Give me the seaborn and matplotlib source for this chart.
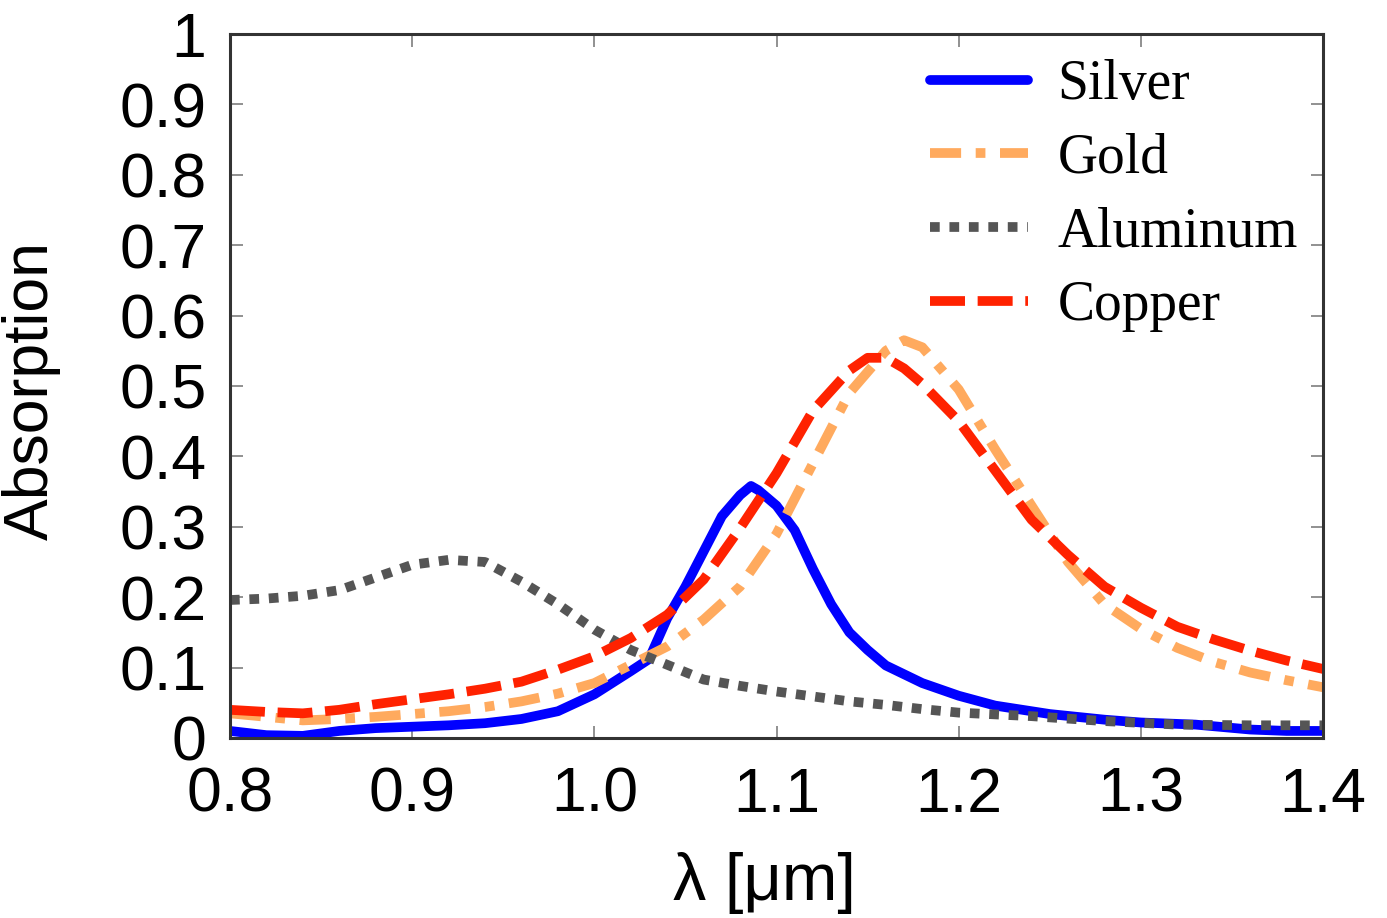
import numpy as np
import pandas as pd
import matplotlib
matplotlib.use("Agg")
import matplotlib.pyplot as plt
import seaborn as sns

# values
silver_x = [0.80, 0.82, 0.84, 0.86, 0.88, 0.90, 0.92, 0.94, 0.96, 0.98, 1.00, 1.02, 1.03, 1.04, 1.05, 1.06,
            1.07, 1.08, 1.086, 1.09, 1.10, 1.11, 1.12, 1.13, 1.14, 1.15, 1.16, 1.18, 1.20, 1.22, 1.25, 1.28,
            1.30, 1.33, 1.36, 1.38, 1.40]
silver_y = [0.010, 0.004, 0.003, 0.010, 0.014, 0.016, 0.018, 0.021, 0.027, 0.038, 0.062, 0.095, 0.112, 0.170,
            0.215, 0.265, 0.315, 0.345, 0.358, 0.352, 0.330, 0.295, 0.240, 0.190, 0.150, 0.125, 0.103, 0.078,
            0.060, 0.046, 0.034, 0.026, 0.022, 0.019, 0.012, 0.010, 0.010]

gold_x = [0.80, 0.82, 0.84, 0.86, 0.88, 0.90, 0.92, 0.94, 0.96, 0.98, 1.00, 1.02, 1.04, 1.06, 1.08, 1.10,
          1.12, 1.14, 1.16, 1.17, 1.18, 1.20, 1.22, 1.24, 1.26, 1.28, 1.30, 1.32, 1.34, 1.36, 1.38, 1.40]
gold_y = [0.035, 0.030, 0.025, 0.027, 0.030, 0.034, 0.038, 0.044, 0.052, 0.063, 0.078, 0.104, 0.130, 0.168,
          0.215, 0.290, 0.390, 0.490, 0.550, 0.565, 0.555, 0.495, 0.410, 0.330, 0.250, 0.190, 0.155, 0.128,
          0.108, 0.093, 0.082, 0.072]

alu_x = [0.80, 0.82, 0.84, 0.86, 0.88, 0.90, 0.92, 0.94, 0.96, 0.98, 1.00, 1.02, 1.04, 1.06, 1.08, 1.10,
         1.12, 1.14, 1.16, 1.18, 1.20, 1.24, 1.28, 1.32, 1.36, 1.40]
alu_y = [0.196, 0.198, 0.202, 0.210, 0.228, 0.246, 0.253, 0.250, 0.222, 0.190, 0.154, 0.125, 0.104, 0.083,
         0.074, 0.066, 0.059, 0.052, 0.047, 0.041, 0.036, 0.031, 0.024, 0.019, 0.018, 0.018]

copper_x = [0.80, 0.82, 0.84, 0.86, 0.88, 0.90, 0.92, 0.94, 0.96, 0.98, 1.00, 1.02, 1.04, 1.06, 1.08, 1.10,
            1.12, 1.14, 1.15, 1.16, 1.17, 1.18, 1.20, 1.22, 1.24, 1.26, 1.28, 1.30, 1.32, 1.34, 1.36, 1.38, 1.40]
copper_y = [0.040, 0.037, 0.035, 0.040, 0.048, 0.055, 0.062, 0.070, 0.080, 0.097, 0.116, 0.142, 0.175, 0.225,
            0.298, 0.376, 0.465, 0.522, 0.540, 0.540, 0.525, 0.503, 0.450, 0.380, 0.310, 0.260, 0.215, 0.185,
            0.158, 0.140, 0.124, 0.110, 0.098]

x_ticks = [0.8, 0.9, 1.0, 1.1, 1.2, 1.3, 1.4]
x_labels = ["0.8", "0.9", "1.0", "1.1", "1.2", "1.3", "1.4"]
y_ticks = [0, 0.1, 0.2, 0.3, 0.4, 0.5, 0.6, 0.7, 0.8, 0.9, 1]
y_labels = ["0", "0.1", "0.2", "0.3", "0.4", "0.5", "0.6", "0.7", "0.8", "0.9", "1"]

sns.set_style("ticks")
plt.rcParams["font.family"] = ["Liberation Sans", "DejaVu Sans"]
plt.rcParams["text.color"] = "black"
plt.rcParams["axes.labelcolor"] = "black"
plt.rcParams["xtick.labelcolor"] = "black"
plt.rcParams["ytick.labelcolor"] = "black"

fig = plt.figure(figsize=(13.87, 9.18), dpi=100)
ax = fig.add_axes([0.1658, 0.1961, 0.7881, 0.7669])

series = [
    ("Silver", silver_x, silver_y, "#0000ff", "-"),
    ("Gold", gold_x, gold_y, "#ffaa5e", (0, (3.2, 1.5, 1.0, 1.5))),
    ("Aluminum", alu_x, alu_y, "#555555", (0, (1.0, 1.0))),
    ("Copper", copper_x, copper_y, "#ff2200", (0, (3.6, 1.3))),
]
for name, xs, ys, col, ls in series:
    df = pd.DataFrame({"x": xs, "y": ys})
    sns.lineplot(data=df, x="x", y="y", ax=ax, color=col, linestyle=ls, linewidth=7, label=name)

ax.set_xlim(0.8, 1.4)
ax.set_ylim(0, 1)
ax.set_xticks(x_ticks)
ax.set_xticklabels(x_labels)
ax.set_yticks(y_ticks)
ax.set_yticklabels(y_labels)
ax.tick_params(direction="in", length=9, width=1.3, color="#888888", labelsize=45,
               top=True, right=True)
ax.tick_params(axis="y", pad=17)
ax.tick_params(axis="x", pad=20)
for sp in ax.spines.values():
    sp.set_visible(True)
    sp.set_linewidth(2.2)
    sp.set_color("#333333")

ax.set_xlabel("λ [μm]", fontsize=48)
ax.set_ylabel("Absorption", fontsize=45)
ax.xaxis.set_label_coords(0.489, -0.162)
ax.yaxis.set_label_coords(-0.155, 0.494)

leg = ax.legend(loc="upper right", frameon=False, handlelength=1.76, handletextpad=0.54,
                labelspacing=0.39, borderaxespad=0.3, borderpad=0.15,
                prop={"family": "Liberation Serif", "size": 40})

fig.savefig("out.png", dpi=100)
